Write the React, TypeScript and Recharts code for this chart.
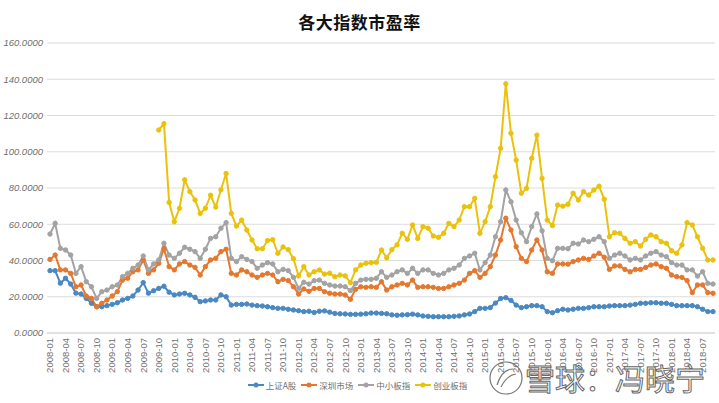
import React from "react";
import { LineChart, Line, XAxis, YAxis, CartesianGrid, Legend } from "recharts";

const YEARS = ["2008", "2009", "2010", "2011", "2012", "2013", "2014", "2015", "2016", "2017", "2018"];
const MONTHS = ["01", "02", "03", "04", "05", "06", "07", "08", "09", "10", "11", "12"];
// 2008-01 .. 2018-09
const categories = YEARS.flatMap((y) => MONTHS.map((m) => `${y}-${m}`)).slice(0, 129);

const yTicks = [0, 20, 40, 60, 80, 100, 120, 140, 160];

// 上证A股
const shanghaiA = [
  34.4, 34.4, 27.5, 30.2, 27.0, 22.0, 21.5, 19.1, 16.4, 14.5, 14.5, 15.1,
  15.8, 16.7, 18.2, 19.1, 20.4, 23.7, 27.8, 22.0, 23.3, 24.6, 25.8, 22.5,
  21.0, 21.5, 21.9, 21.0, 19.7, 17.3, 17.7, 18.2, 18.2, 21.0, 20.0, 15.4,
  15.8, 15.8, 16.0, 15.4, 15.1, 14.9, 14.5, 14.0, 13.6, 13.6, 13.1, 12.7,
  12.3, 11.8, 12.0, 11.3, 12.0, 12.2, 11.5, 10.8, 10.6, 10.5, 10.3, 10.3,
  10.4, 10.6, 11.0, 11.0, 10.8, 10.6, 10.0, 9.8, 10.0, 10.1, 10.4, 10.0,
  9.4, 9.2, 9.0, 9.0, 9.0, 9.0, 9.2, 9.4, 10.0, 10.5, 11.8, 13.6,
  13.6, 14.0, 16.5, 19.0, 19.5, 18.0, 15.4, 14.0, 14.5, 15.1, 15.1, 14.5,
  11.8, 11.2, 12.3, 13.1, 12.7, 13.1, 13.6, 13.6, 14.0, 14.5, 14.5, 14.5,
  14.9, 15.1, 15.1, 15.1, 15.4, 15.8, 16.4, 16.4, 16.7, 16.7, 16.4, 16.4,
  15.8, 15.1, 15.1, 15.1, 15.1, 14.5, 13.1, 11.8, 11.8,
];

// 深圳市场
const shenzhen = [
  40.6, 43.0, 34.8, 34.8, 32.9, 25.5, 26.5, 20.4, 19.1, 14.5, 16.4, 18.2,
  20.4, 22.8, 29.2, 30.2, 33.8, 34.8, 40.3, 32.9, 34.8, 38.5, 46.5, 36.6,
  34.8, 38.1, 39.4, 37.5, 36.2, 32.0, 36.6, 40.3, 41.2, 44.9, 46.2, 32.9,
  32.0, 34.8, 33.8, 32.0, 30.7, 32.0, 32.9, 32.0, 28.3, 29.6, 28.9, 25.5,
  21.5, 24.3, 23.0, 24.6, 24.6, 22.8, 21.9, 21.5, 21.5, 21.0, 18.6, 24.1,
  25.5, 25.2, 25.5, 25.2, 28.3, 23.7, 25.5, 26.5, 27.4, 26.5, 29.2, 25.2,
  25.5, 25.5, 25.2, 24.6, 24.6, 25.5, 26.5, 27.4, 29.2, 32.9, 34.4, 30.7,
  32.9, 36.6, 43.0, 51.3, 63.3, 56.8, 47.6, 41.2, 39.4, 45.8, 51.3, 45.8,
  33.8, 32.9, 38.1, 38.1, 38.0, 39.4, 40.3, 41.2, 40.6, 42.5, 44.0, 41.8,
  35.1, 37.0, 37.0, 35.1, 33.8, 35.1, 35.1, 36.2, 37.5, 38.1, 36.6, 35.7,
  32.0, 31.1, 30.7, 28.9, 22.3, 26.5, 26.5, 22.3, 21.9,
];

// 中小板指
const smeBoard = [
  54.6, 60.5, 46.7, 45.8, 43.0, 32.9, 36.6, 28.3, 25.5, 19.1, 22.8, 23.7,
  25.5, 26.5, 31.1, 32.9, 35.7, 37.5, 42.5, 34.8, 38.1, 40.3, 49.5, 43.0,
  41.2, 44.0, 47.3, 46.2, 44.9, 41.2, 46.2, 52.2, 53.1, 57.8, 60.9, 41.2,
  39.4, 42.1, 40.6, 39.4, 35.7, 37.5, 38.8, 38.1, 33.8, 35.1, 34.4, 30.7,
  24.6, 28.0, 27.0, 28.9, 29.2, 27.4, 26.5, 25.9, 25.9, 25.5, 23.4, 27.4,
  29.2, 29.6, 29.6, 30.2, 33.8, 30.7, 32.0, 33.8, 34.8, 32.9, 35.7, 32.9,
  34.8, 34.8, 32.9, 32.0, 32.9, 34.8, 35.7, 37.5, 41.2, 42.5, 44.0, 34.8,
  38.8, 43.0, 53.1, 61.4, 78.9, 72.4, 62.3, 55.3, 50.4, 58.7, 65.7, 56.4,
  41.2, 39.9, 46.7, 46.7, 46.5, 49.5, 49.1, 51.3, 50.4, 51.7, 53.1, 50.4,
  41.2, 43.0, 44.0, 42.5, 40.3, 41.2, 40.3, 42.5, 44.0, 44.9, 43.0, 42.1,
  38.8, 37.5, 37.5, 34.8, 34.8, 31.4, 33.8, 27.4, 27.0,
];

// 创业板指 (starts 2009-10)
const chinext = [
  null, null, null, null, null, null, null, null, null, null, null, null,
  null, null, null, null, null, null, null, null, null, 112.0, 115.5, 72.0,
  61.4, 68.8, 84.5, 78.0, 73.4, 66.0, 68.8, 76.0, 69.5, 79.0, 88.0, 66.0,
  59.0, 62.3, 56.8, 51.3, 46.5, 46.5, 51.0, 51.5, 44.0, 47.5, 46.0, 41.0,
  31.5, 36.6, 32.0, 33.8, 34.8, 32.5, 33.0, 31.0, 32.0, 31.5, 27.8, 34.8,
  37.5, 38.5, 38.8, 39.0, 45.8, 41.5, 46.0, 48.6, 55.0, 51.7, 59.6, 52.2,
  58.7, 57.8, 53.5, 52.8, 55.0, 60.5, 58.7, 62.3, 69.7, 69.7, 74.3, 55.0,
  61.4, 69.7, 86.2, 101.9, 137.5, 110.2, 95.4, 77.1, 79.8, 96.4, 109.2, 85.3,
  62.3, 59.3, 70.6, 70.0, 71.0, 77.1, 73.4, 78.0, 76.1, 78.9, 81.0, 73.8,
  53.1, 55.3, 55.0, 52.2, 49.5, 50.4, 48.0, 51.7, 54.1, 53.1, 50.4, 49.5,
  45.4, 44.0, 48.6, 60.9, 59.6, 53.1, 46.7, 40.3, 40.3,
];

const series = [
  { key: "shanghaiA", name: "上证A股", color: "#4a88c2" },
  { key: "shenzhen", name: "深圳市场", color: "#e5782f" },
  { key: "smeBoard", name: "中小板指", color: "#a3a3a3" },
  { key: "chinext", name: "创业板指", color: "#eac20c" },
];

const data = categories.map((month, i) => ({
  month,
  shanghaiA: shanghaiA[i],
  shenzhen: shenzhen[i],
  smeBoard: smeBoard[i],
  chinext: chinext[i],
}));

const LABEL_FONT = "'Liberation Sans', Arial, sans-serif";
const CJK_FONT = "'Noto Sans CJK SC', 'Noto Sans', sans-serif";

function MonthTick({ x, y, payload }: any) {
  return (
    <text
      x={x}
      y={y}
      transform={`rotate(-90, ${x}, ${y})`}
      textAnchor="end"
      dy="0.35em"
      fontSize={9.5}
      fontFamily={LABEL_FONT}
      fill="#707070"
    >
      {payload.value}
    </text>
  );
}

function LegendContent() {
  return (
    <div
      style={{
        display: "flex",
        justifyContent: "center",
        alignItems: "center",
        gap: 5,
        fontSize: 8.5,
        fontFamily: CJK_FONT,
        color: "#707070",
        height: 16,
      }}
    >
      {series.map((s) => (
        <span key={s.key} style={{ display: "flex", alignItems: "center" }}>
          <svg width={16} height={8}>
            <line x1={0} y1={4} x2={16} y2={4} stroke={s.color} strokeWidth={2} />
            <circle cx={8} cy={4} r={2.5} fill={s.color} />
          </svg>
          <span style={{ marginLeft: 2 }}>{s.name}</span>
        </span>
      ))}
    </div>
  );
}

export default function App() {
  return (
    <div style={{ position: "relative", width: 719, height: 403, background: "#fff" }}>
      <style>{"body{margin:0}"}</style>
      <div
        style={{
          position: "absolute",
          top: 9,
          left: 0,
          width: 719,
          textAlign: "center",
          fontFamily: CJK_FONT,
          fontWeight: 700,
          fontSize: 17,
          color: "#111",
          letterSpacing: 0.5,
        }}
      >
        各大指数市盈率
      </div>
      <LineChart width={719} height={403} data={data} margin={{ top: 43, right: 4, bottom: 10, left: 0 }}>
        <CartesianGrid vertical={false} stroke="#dcdcdc" />
        <XAxis
          dataKey="month"
          interval={2}
          tick={<MonthTick />}
          tickLine={false}
          tickSize={3}
          tickMargin={2}
          height={44}
          axisLine={{ stroke: "#d4d4d4" }}
          padding={{ left: 3, right: 2 }}
        />
        <YAxis
          width={47}
          domain={[0, 160]}
          ticks={yTicks}
          tickFormatter={(v: number) => v.toFixed(4)}
          axisLine={false}
          tickLine={false}
          tickSize={4}
          tickMargin={0}
          tick={{ fontSize: 9.5, fill: "#707070", fontFamily: LABEL_FONT, fontStyle: "italic" }}
        />
        <Legend verticalAlign="bottom" height={16} content={<LegendContent />} />
        {series.map((s) => (
          <Line
            key={s.key}
            type="linear"
            dataKey={s.key}
            name={s.name}
            stroke={s.color}
            strokeWidth={2}
            dot={{ r: 2.2, fill: s.color, stroke: s.color, strokeWidth: 1 }}
            isAnimationActive={false}
          />
        ))}
      </LineChart>
      <svg
        width={240}
        height={46}
        style={{ position: "absolute", left: 478, top: 355, pointerEvents: "none" }}
      >
        <circle cx={28} cy={23} r={16} fill="none" stroke="#777" strokeWidth={1.2} />
        <path d="M19 30 Q24 14 35 14 M23 32 Q29 20 38 19" fill="none" stroke="#777" strokeWidth={1.2} />
        <text
          x={47}
          y={35}
          fontSize={30}
          fontFamily={CJK_FONT}
          fill="#fff"
          stroke="#666"
          strokeWidth={1}
        >
          雪球：冯晓宁
        </text>
      </svg>
    </div>
  );
}
